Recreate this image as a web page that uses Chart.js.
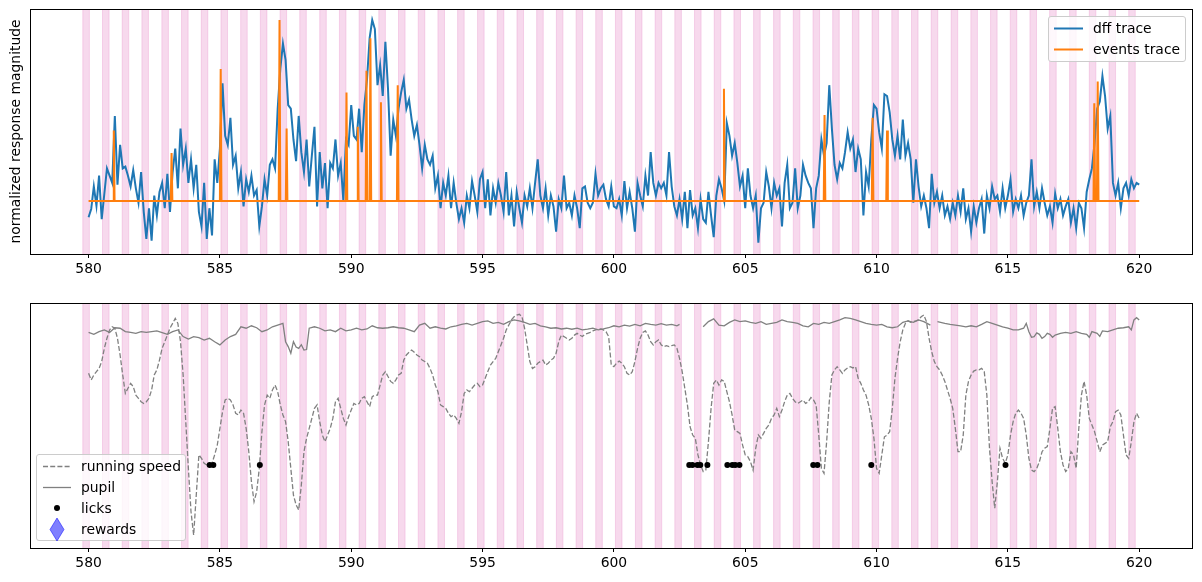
<!DOCTYPE html>
<html><head><meta charset="utf-8">
<script src="https://cdn.jsdelivr.net/npm/chart.js@4.4.1/dist/chart.umd.min.js"></script>
<style>
html,body{margin:0;padding:0;background:#fff;width:1202px;height:582px;overflow:hidden;font-family:"DejaVu Sans",sans-serif;}
.wrap{position:absolute;left:0;width:1202px;height:291px;}
#w1{top:0;}
#w2{top:291px;}
.legend{position:absolute;background:rgba(255,255,255,0.8);border:1px solid #cccccc;border-radius:3px;box-sizing:border-box;}
.lt{position:absolute;height:20px;line-height:20px;font-size:13.9px;color:#000;white-space:nowrap;font-family:"DejaVu Sans",sans-serif;}
.ls{position:absolute;}
</style>
</head><body>
<div class="wrap" id="w1"><canvas id="c1" width="1202" height="291"></canvas></div>
<div class="wrap" id="w2"><canvas id="c2" width="1202" height="291"></canvas></div>

<div class="legend" style="left:1048px;top:16px;width:138px;height:46px;">
  <svg class="ls" style="left:4px;top:0px" width="32" height="44"><line x1="1" y1="11.5" x2="30" y2="11.5" stroke="#1f77b4" stroke-width="2"/><line x1="1" y1="32.5" x2="30" y2="32.5" stroke="#ff7f0e" stroke-width="2"/></svg>
  <div class="lt" style="left:44px;top:1px">dff trace</div>
  <div class="lt" style="left:44px;top:22px">events trace</div>
</div>

<div class="legend" style="left:36px;top:454px;width:150px;height:87px;">
  <svg class="ls" style="left:0;top:0" width="40" height="86">
    <line x1="6" y1="11.5" x2="34" y2="11.5" stroke="#808080" stroke-width="1.3" stroke-dasharray="5,2.2"/>
    <line x1="6" y1="32.5" x2="34" y2="32.5" stroke="#808080" stroke-width="1.3"/>
    <circle cx="20" cy="53" r="3" fill="#000"/>
    <polygon points="20,63 27,74.5 20,86 13,74.5" fill="rgba(0,0,255,0.5)" stroke="rgba(0,0,255,0.5)" stroke-width="1"/>
  </svg>
  <div class="lt" style="left:44px;top:1px">running speed</div>
  <div class="lt" style="left:44px;top:22px">pupil</div>
  <div class="lt" style="left:44px;top:43px">licks</div>
  <div class="lt" style="left:44px;top:64px">rewards</div>
</div>

<script>
// ---------- data ----------
const xTicks = [580, 585, 590, 595, 600, 605, 610, 615, 620];
const xLimits = [577.77, 622.01];
const sampleStart = 580.0;   // seconds
const sampleStep = 0.1;      // seconds between samples

// stimulus presentation onsets (s) and duration
const stimStarts = [579.78,580.53,581.28,582.03,582.79,583.54,584.29,585.04,585.79,586.54,587.29,588.04,588.80,589.55,590.30,591.05,591.80,592.55,593.30,594.05,594.81,595.56,596.31,597.06,597.81,598.56,599.31,600.06,600.82,601.57,602.32,603.07,603.82,604.57,605.32,606.08,606.83,607.58,608.33,609.08,609.83,610.58,611.33,612.08,612.84,613.59,614.34,615.09,615.84,616.59,617.35,618.10,618.85,619.60];
const stimDur = 0.25;

// dff trace (normalized, x100), sampled every 0.1 s from 580.0 to 620.0
const dffValues = [
-9,-4.4,8,-2.6,14,-10,4,18,14,10,
47,9,31,18,19,14,8,17,7,-1,
16,-6,-21,-4,-22,3,-8,5,10,-4,
15,-6,16,29,7,40,20,29,10,23,
7,20,-6,-14,10,-21,-4,-19,23,10,
29,65,36,31,46,20,25,7,16,-3,
12,5,14,3,6,-14,-3,12,3,20,
23,18,51,73,87,78,53,51,34,22,
47,27,16,34,8,25,41,-3,27,7,
21,-4,21,18,34,14,21,0,34,31,
53,36,34,51,27,53,67,90,100,95,
64,75,58,88,62,25,45,36,51,60,
67,51,56,45,36,42,31,18,31,23,
20,25,7,14,-4,10,3,14,-4,10,
-1,-10,-4,-12,3,-4,11,3,-6,12,
16,-4,12,-8,7,-1,10,3,-6,16,
-8,3,-14,5,-4,-12,3,-3,7,-4,
10,23,3,-4,7,-8,3,-3,-17,1,
-4,14,-4,-1,-8,3,-4,-15,7,8,
-1,-4,-1,15,3,7,9,1,-3,8,
-3,-4,1,-8,11,-4,5,-4,-17,10,
3,-3,14,3,27,10,3,10,7,10,
3,27,8,-3,-8,1,-10,5,-15,6,
-8,-4,-15,1,-10,-12,5,-8,-20,3,
12,7,0,43,36,25,32,21,8,14,
-4,18,3,-4,3,-23,-4,-1,16,8,
-4,10,3,7,-14,10,20,-4,-1,18,
-4,3,20,14,10,7,-15,7,14,34,
25,32,64,40,20,12,21,18,27,38,
29,34,16,29,23,-8,16,8,34,53,
51,38,29,59,58,49,34,25,36,23,
45,25,32,23,-1,23,8,-3,3,-4,
-15,15,-1,5,-4,3,-8,-3,-10,-1,
-8,3,-6,7,-10,-4,-17,-3,-12,-4,
1,-18,3,-4,8,1,3,-6,7,-4,
3,12,-6,1,-4,3,-8,-1,3,23,
-3,5,-4,7,-1,-8,-3,-12,4,-4,
1,-8,-3,1,-12,-4,-15,-1,-4,-15,
5,12,18,32,51,55,69,58,40,47,
10,3,10,-4,7,10,3,12,7,10,
9];

// detected events: time (s) and magnitude (normalized, x100)
const eventTimes = [580.96,583.16,585.03,587.27,587.54,589.82,590.25,590.58,590.73,591.13,591.77,604.19,608.02,609.85,610.40,618.29,618.42];
const eventMags  = [39,26.5,73,100,40,60,41,72,90,54.5,64,62,47.5,46,39,54,66];
const eventHalfWidth = 0.03;
const traceEnd = 620.0;

// running speed (normalized), sampled every 0.1 s from 580.0 to 620.0
const runValues = [
71.3,68.6,70.6,72.0,73.3,76.1,81.5,85.6,89.0,90.3,
89.7,85.6,78.8,70.6,63.1,65.2,67.2,65.9,62.4,61.1,
59.7,59.0,59.7,61.1,64.5,70.6,72.7,76.7,81.5,84.2,
86.9,89.7,91.7,93.7,91.7,84.2,70.6,51.6,32.5,14.8,
5.3,21.6,38.0,36.6,34.6,33.9,33.9,34.6,38.0,42.0,
48.8,55.6,60.4,61.1,60.4,58.4,55.0,54.3,56.3,55.0,
48.8,39.3,27.1,18.9,23.0,32.5,47.5,58.4,62.4,61.1,
64.5,66.5,63.8,58.4,54.3,51.6,43.4,32.5,21.6,17.6,
15.5,25.7,39.3,44.8,48.8,52.9,57.0,58.4,51.6,46.1,
43.4,46.1,48.8,52.9,59.7,61.1,57.0,52.9,50.2,53.6,
56.3,59.0,58.4,59.0,61.1,61.8,59.7,57.7,61.8,62.4,
62.4,66.5,70.6,72.0,70.0,68.0,67.2,68.6,70.6,71.3,
76.7,78.8,79.9,80.8,79.9,78.8,78.1,76.7,76.1,75.4,
73.3,70.6,66.5,63.8,58.4,57.7,57.0,55.0,53.6,54.3,
52.9,50.9,55.6,63.1,64.5,63.8,65.2,66.5,67.2,65.9,
66.5,69.3,72.0,74.7,76.1,77.4,80.1,82.9,85.6,89.0,
91.0,93.1,94.4,95.1,95.4,94.4,89.7,82.9,76.1,73.3,
74.0,75.4,76.1,76.7,74.7,75.4,76.7,77.4,79.5,84.2,
86.9,86.3,85.6,84.9,85.6,86.9,87.6,86.9,86.3,87.2,
87.6,88.0,88.6,89.0,89.3,89.4,89.0,88.3,86.3,74.7,
74.0,75.4,76.3,75.4,74.0,71.3,70.6,72.0,76.1,81.5,
85.6,88.0,88.6,86.9,84.2,82.9,84.2,84.9,82.9,82.2,
82.6,82.2,82.6,82.9,81.5,77.4,72.0,65.2,58.4,49.5,
46.1,44.8,38.0,33.9,31.2,31.8,43.4,57.0,67.2,68.6,
66.5,68.6,68.0,63.8,59.7,54.3,48.2,47.5,46.8,42.0,
38.0,37.3,35.2,31.8,40.7,46.1,44.8,46.8,48.8,50.2,
52.9,54.3,57.0,53.6,56.3,59.7,62.4,63.1,61.1,59.7,
59.0,59.7,60.4,59.0,59.7,61.4,60.4,58.4,46.1,32.5,
30.5,43.4,59.7,70.6,72.7,74.0,72.7,71.3,72.7,73.5,
74.0,73.5,74.0,69.3,67.2,64.5,62.4,58.4,52.9,44.8,
32.5,30.5,38.0,45.4,46.1,47.5,57.0,69.3,77.4,84.2,
89.0,91.7,92.7,92.1,92.4,92.7,93.1,94.4,95.1,92.4,
85.6,80.1,76.1,74.0,72.7,70.6,68.0,64.5,61.1,57.0,
48.8,39.3,39.3,46.1,62.4,68.0,70.6,72.2,72.7,72.7,
73.3,72.0,62.4,40.7,27.1,16.2,27.1,40.7,36.6,34.6,
38.0,46.1,51.6,55.0,56.3,55.0,52.9,46.1,36.6,31.8,
31.2,32.5,35.2,39.3,40.7,41.4,48.8,57.0,57.7,48.8,
39.3,33.9,31.2,32.5,39.3,38.0,32.5,48.8,62.4,68.0,
62.4,52.9,50.2,47.5,43.4,39.3,42.0,42.7,43.4,49.5,
51.6,55.6,56.3,54.3,46.1,38.0,36.6,43.4,51.6,55.0,
52.9];

// pupil (normalized); null = missing samples
const pupilTimes = [580.0,580.2,580.4,580.6,580.8,581.0,581.2,581.4,581.6,581.8,582.0,582.2,582.4,582.6,582.8,583.0,583.2,583.4,583.6,583.8,584.0,584.2,584.4,584.6,584.8,585.0,585.2,585.4,585.6,585.8,586.0,586.2,586.4,586.6,586.8,587.0,587.2,587.4,587.5,587.6,587.7,587.8,587.9,588.0,588.1,588.2,588.3,588.4,588.6,588.8,589.0,589.2,589.4,589.6,589.8,590.0,590.2,590.4,590.6,590.8,591.0,591.2,591.4,591.6,591.8,592.0,592.2,592.4,592.6,592.8,593.0,593.2,593.4,593.6,593.8,594.0,594.2,594.4,594.6,594.8,595.0,595.2,595.4,595.6,595.8,596.0,596.2,596.4,596.6,596.8,597.0,597.2,597.4,597.6,597.8,598.0,598.2,598.4,598.6,598.8,599.0,599.2,599.4,599.6,599.8,600.0,600.2,600.4,600.6,600.8,601.0,601.2,601.4,601.6,601.8,602.0,602.2,602.4,602.5,603.0,603.4,603.6,603.8,604.0,604.2,604.4,604.6,604.8,605.0,605.2,605.4,605.6,605.8,606.0,606.2,606.4,606.6,606.8,607.0,607.2,607.4,607.6,607.8,608.0,608.2,608.4,608.6,608.8,609.0,609.2,609.4,609.6,609.8,610.0,610.2,610.4,610.6,610.8,611.0,611.2,611.4,611.6,611.8,612.05,612.2,612.32,612.6,612.8,613.0,613.2,613.4,613.6,613.8,614.0,614.2,614.4,614.6,614.8,615.0,615.2,615.4,615.6,615.7,615.8,615.9,616.0,616.1,616.2,616.3,616.4,616.5,616.6,616.7,616.8,617.0,617.2,617.4,617.6,617.8,618.0,618.1,618.2,618.4,618.5,618.6,618.8,619.0,619.2,619.4,619.6,619.7,619.8,619.9,620.0];
const pupilValues = [88.0,87.2,88.3,89.0,88.0,89.9,89.7,88.3,88.0,87.6,88.3,88.0,88.3,88.6,87.9,87.2,88.3,89.0,86.3,85.3,86.3,85.9,84.9,85.6,84.2,82.9,84.9,86.3,87.2,90.3,89.7,90.7,89.9,88.3,89.0,90.3,91.0,91.7,84.2,82.2,79.5,84.2,82.0,81.5,83.0,80.8,81.0,89.7,90.3,89.7,88.6,89.0,88.3,89.7,88.6,89.0,89.7,89.0,89.4,90.7,89.9,89.7,89.9,90.3,89.9,89.7,89.0,88.3,91.0,91.7,89.7,90.3,89.7,89.4,90.3,90.7,91.3,91.7,91.0,91.7,92.4,92.7,91.7,92.1,91.3,92.4,93.1,92.7,92.1,91.3,91.7,90.7,90.3,89.7,89.9,89.4,89.7,89.3,89.7,89.0,89.3,89.7,89.0,89.4,89.9,90.7,90.3,91.0,90.6,91.3,90.7,91.7,91.3,91.0,91.6,91.0,91.3,90.7,91.3,null,90.3,92.4,93.5,91.0,90.7,92.1,93.1,92.4,92.7,92.1,91.7,92.4,91.3,91.7,92.1,93.1,92.4,92.1,91.7,90.7,90.3,91.7,91.3,92.1,91.7,92.4,93.1,94.0,93.7,93.1,92.4,91.7,91.3,91.0,91.3,90.3,89.9,90.3,92.1,92.7,92.1,93.1,92.4,91.0,null,92.4,91.7,91.3,91.0,90.7,90.3,90.7,90.3,91.3,92.4,91.7,91.0,90.3,89.7,89.0,89.0,89.7,91.7,88.3,86.0,86.3,87.8,87.2,85.6,86.3,87.6,87.2,86.0,86.9,87.6,88.0,87.6,88.3,87.6,87.2,86.0,88.3,87.6,86.4,88.6,88.3,89.0,89.7,89.9,90.3,89.0,93.1,94.0,93.1];

// licks (s), all drawn at one level
const lickTimes = [584.61,584.75,586.52,602.87,602.99,603.18,603.29,603.56,604.32,604.51,604.62,604.78,607.59,607.75,609.80,614.91];
const lickLevel = 33.9;
const rewardTimes = [];

// ---------- build library datasets ----------
const gridPts = vals => vals.map((v, i) => ({x: sampleStart + i * sampleStep, y: v}));
const dffPts = gridPts(dffValues);
const runPts = gridPts(runValues);
const eventPts = [{x: sampleStart, y: 0}];
eventTimes.forEach((t, i) => {
  eventPts.push({x: t - eventHalfWidth, y: 0}, {x: t, y: eventMags[i]}, {x: t + eventHalfWidth, y: 0});
});
eventPts.push({x: traceEnd, y: 0});
const pupilPts = pupilTimes.map((t, i) => ({x: t, y: pupilValues[i]}));
const lickPts = lickTimes.map(t => ({x: t, y: lickLevel}));
const rewardPts = rewardTimes.map(t => ({x: t, y: lickLevel}));

// ---------- plugins ----------
const bandPlugin = {
  id: 'bands',
  beforeDatasetsDraw(chart) {
    const {ctx, chartArea: a, scales: {x}} = chart;
    ctx.save();
    ctx.beginPath(); ctx.rect(a.left, a.top, a.width, a.height); ctx.clip();
    ctx.fillStyle = 'rgba(230,140,200,0.33)';
    ctx.strokeStyle = 'rgba(230,140,200,0.33)';
    ctx.lineWidth = 1;
    stimStarts.forEach(s => {
      const x0 = x.getPixelForValue(s), x1 = x.getPixelForValue(s + stimDur);
      ctx.fillRect(x0, a.top, x1 - x0, a.height);
      ctx.strokeRect(x0, a.top - 2, x1 - x0, a.height + 4);
    });
    ctx.restore();
  }
};
const boxPlugin = {
  id: 'box',
  afterDraw(chart) {
    const {ctx, chartArea: a} = chart;
    ctx.save();
    ctx.strokeStyle = '#000'; ctx.lineWidth = 1;
    ctx.strokeRect(Math.round(a.left) + 0.5, Math.round(a.top) + 0.5, Math.round(a.width), Math.round(a.height));
    ctx.restore();
  }
};

const FONT = {family: 'DejaVu Sans', size: 13.9};
function xAxis(h) {
  return {
    type: 'linear', min: xLimits[0], max: xLimits[1],
    afterBuildTicks: s => { s.ticks = xTicks.map(v => ({value: v})); },
    afterFit: s => { s.height = h; },
    ticks: {font: FONT, color: '#000', padding: 3, maxRotation: 0, autoSkip: false, callback: v => String(v)},
    grid: {display: true, drawOnChartArea: false, drawTicks: true, tickLength: 4, color: '#000', lineWidth: 1},
    border: {display: false}
  };
}
function yAxis(min, max, title) {
  return {
    type: 'linear', min: min, max: max,
    afterFit: s => { s.width = 30; },
    ticks: {display: false},
    grid: {display: false},
    border: {display: false},
    title: {display: !!title, text: title || '', font: FONT, color: '#000', padding: {top: 8, bottom: 0}}
  };
}
const common = {
  responsive: false, animation: false, devicePixelRatio: 1,
  plugins: {legend: {display: false}, tooltip: {enabled: false}},
  elements: {point: {radius: 0}, line: {tension: 0}}
};

new Chart(document.getElementById('c1'), {
  type: 'scatter',
  data: {datasets: [
    {label: 'events trace', data: eventPts, showLine: true, borderColor: '#ff7f0e', borderWidth: 2, pointRadius: 0, order: 0},
    {label: 'dff trace', data: dffPts, showLine: true, borderColor: '#1f77b4', borderWidth: 2, pointRadius: 0, order: 1}
  ]},
  options: Object.assign({}, common, {
    layout: {padding: {top: 9, right: 10, left: 0, bottom: 0}},
    scales: {x: xAxis(37), y: yAxis(-29.3, 106.1, 'normalized response magnitude')}
  }),
  plugins: [bandPlugin, boxPlugin]
});

new Chart(document.getElementById('c2'), {
  type: 'scatter',
  data: {datasets: [
    {label: 'licks', data: lickPts, showLine: false, pointRadius: 3, pointBackgroundColor: '#000', pointBorderWidth: 0, order: 0},
    {label: 'rewards', data: rewardPts, showLine: false, pointStyle: 'rectRot', pointRadius: 8, pointBackgroundColor: 'rgba(0,0,255,0.5)', order: 0},
    {label: 'running speed', data: runPts, showLine: true, borderColor: '#808080', borderWidth: 1.3, borderDash: [5, 2.2], pointRadius: 0, order: 1},
    {label: 'pupil', data: pupilPts, showLine: true, spanGaps: false, borderColor: '#808080', borderWidth: 1.3, pointRadius: 0, order: 2}
  ]},
  options: Object.assign({}, common, {
    layout: {padding: {top: 12, right: 10, left: 0, bottom: 0}},
    scales: {x: xAxis(34), y: yAxis(0, 100, '')}
  }),
  plugins: [bandPlugin, boxPlugin]
});
</script>
</body></html>
